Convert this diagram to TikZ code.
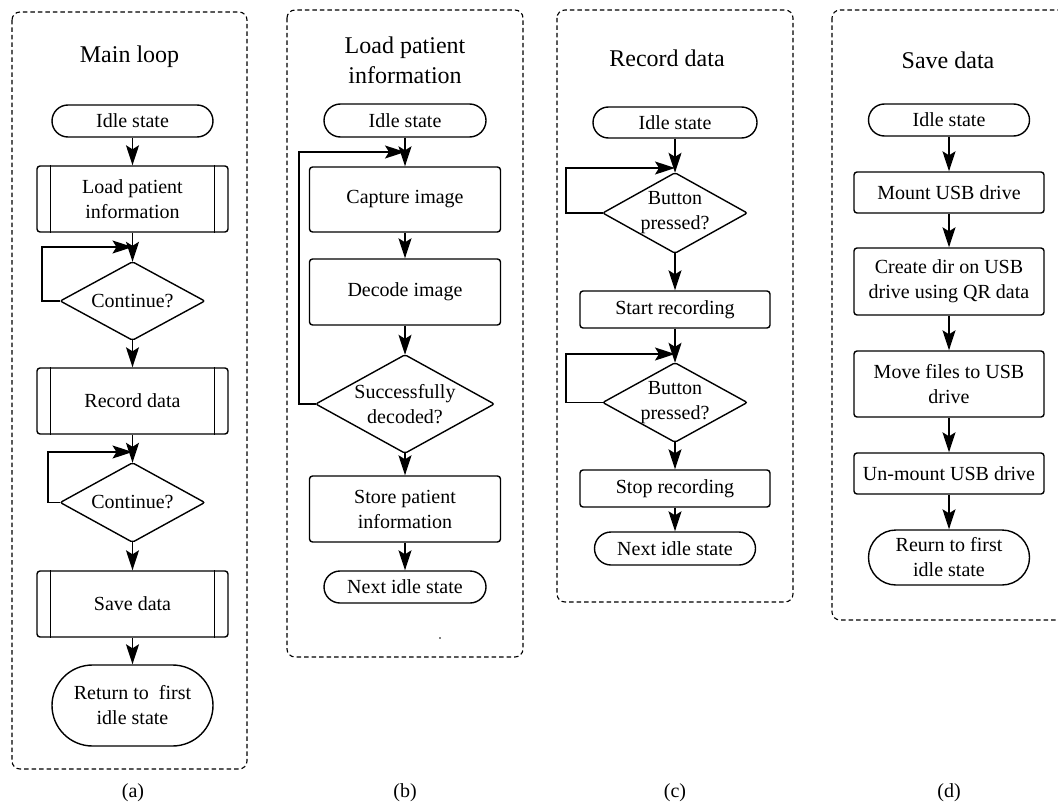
\documentclass[tikz,border=0pt]{standalone}
\usepackage{fontspec}
\setmainfont{Liberation Serif}
\usetikzlibrary{arrows.meta,shapes.misc}
\begin{document}
\begin{tikzpicture}[x=1pt,y=-1pt,
  every node/.style={font=\fontsize{20}{25}\selectfont, inner sep=0pt, align=center},
  frame/.style={draw, line width=1.1pt, dash pattern=on 4.5pt off 3pt, rounded corners=8pt},
  ttl/.style={font=\fontsize{24}{30}\selectfont},
  term/.style={draw, rounded rectangle, line width=1.4pt},
  proc/.style={draw, rectangle, rounded corners=3pt, line width=1.4pt},
  dec/.style={rectangle},
  arr/.style={line width=1.4pt, -{Stealth[length=20pt,width=13pt,inset=4pt]}},
  lbl/.style={font=\fontsize{20}{24}\selectfont}]
\useasboundingbox (0,0) rectangle (1058,808);
\clip (0,0) rectangle (1058,808);

% ---------------- (a) ----------------
\draw[frame] (12,12) rectangle (247,769);
\node[ttl] (ta) at (129.5,57) {Main loop};
\node[term, minimum width=161pt, minimum height=32pt] (a1) at (132.5,121) {Idle state};
\node[proc, minimum width=191pt, minimum height=66pt] (a2) at (132.5,199) {Load patient\\information};
\node[dec, minimum width=144pt, minimum height=78pt] (a3) at (132.5,301) {Continue?};
\node[proc, minimum width=191pt, minimum height=66pt] (a4) at (132.5,401) {Record data};
\node[dec, minimum width=144pt, minimum height=79pt] (a5) at (132.5,502.5) {Continue?};
\node[proc, minimum width=191pt, minimum height=66pt] (a6) at (132.5,604) {Save data};
\node[term, minimum width=161pt, minimum height=81pt] (a7) at (132.5,705.5) {Return to~ first\\idle state};
\node[lbl] (la) at (133,793) {(a)};
\coordinate (la1) at (42,247);
\coordinate (ja1) at (132.5,247);
\coordinate (la2) at (48,452);
\coordinate (ja2) at (132.5,452);

% ---------------- (b) ----------------
\draw[frame] (287,10) rectangle (523,657);
\node[ttl] (tb) at (405,60) {Load patient\\information};
\node[term, minimum width=162pt, minimum height=33pt] (b1) at (405,120.5) {Idle state};
\node[proc, minimum width=191pt, minimum height=65pt] (b2) at (405,199.5) {Capture image};
\node[proc, minimum width=191pt, minimum height=66pt] (b3) at (405,292) {Decode image};
\node[dec, minimum width=178pt, minimum height=98pt] (b4) at (405,404) {Successfully\\decoded?};
\node[proc, minimum width=191pt, minimum height=66pt] (b5) at (405,509) {Store patient\\information};
\node[term, minimum width=162pt, minimum height=32pt] (b6) at (405,587) {Next idle state};
\node[lbl] (lb) at (405,793) {(b)};
\fill (440,638) circle (0.8pt);
\coordinate (lb1) at (299,152);
\coordinate (jb1) at (405,152);

% ---------------- (c) ----------------
\draw[frame] (557,10) rectangle (793,602);
\node[ttl] (tc) at (667,58) {Record data};
\node[term, minimum width=164pt, minimum height=31pt] (c1) at (675,122.5) {Idle state};
\node[dec, minimum width=144pt, minimum height=80pt] (c2) at (675,213) {Button\\pressed?};
\node[proc, minimum width=190pt, minimum height=37pt] (c3) at (675,309.5) {Start recording};
\node[dec, minimum width=144pt, minimum height=79pt] (c4) at (675,402.5) {Button\\pressed?};
\node[proc, minimum width=190pt, minimum height=37pt] (c5) at (675,488.5) {Stop recording};
\node[term, minimum width=161pt, minimum height=33pt] (c6) at (675,548.5) {Next idle state};
\node[lbl] (lc) at (675,793) {(c)};
\coordinate (lc1) at (566,168);
\coordinate (jc1) at (675,168);
\coordinate (lc2) at (566,354);
\coordinate (jc2) at (675,354);

% ---------------- (d) ----------------
\draw[frame] (832,10) rectangle (1070,620);
\node[ttl] (td) at (948,60) {Save data};
\node[term, minimum width=161pt, minimum height=32pt] (d1) at (949,120) {Idle state};
\node[proc, minimum width=190pt, minimum height=41pt] (d2) at (949,192.5) {Mount USB drive};
\node[proc, minimum width=190pt, minimum height=67pt] (d3) at (949,281.5) {Create dir on USB\\drive using QR data};
\node[proc, minimum width=190pt, minimum height=66pt] (d4) at (949,384) {Move files to USB\\drive};
\node[proc, minimum width=190pt, minimum height=41pt] (d5) at (949,473.5) {Un-mount USB drive};
\node[term, minimum width=161pt, minimum height=55pt] (d6) at (949,557.5) {Reurn to first\\idle state};
\node[lbl] (ld) at (949,793) {(d)};

% subprocess side bars
\foreach \n in {a2,a4,a6} {
  \draw[line width=1.4pt] ([xshift=14pt]\n.north west) -- ([xshift=14pt]\n.south west);
  \draw[line width=1.4pt] ([xshift=-14pt]\n.north east) -- ([xshift=-14pt]\n.south east);
}
% diamonds
\foreach \n in {a3,a5,b4,c2,c4} {
  \draw[line width=1.4pt, rounded corners=2pt] (\n.north) -- (\n.east) -- (\n.south) -- (\n.west) -- cycle;
}

% connectors (a)
\draw[arr] (a1.south) -- (a2.north);
\draw[arr] (a2.south) -- (a3.north);
\draw[arr] (a3.south) -- (a4.north);
\draw[arr] (a4.south) -- (a5.north);
\draw[arr] (a5.south) -- (a6.north);
\draw[arr] (a6.south) -- (a7.north);
\draw[arr] (a3.west) -- (a3.west -| la1) -- (la1) -- (ja1);
\draw[arr] (a5.west) -- (a5.west -| la2) -- (la2) -- (ja2);
% connectors (b)
\draw[arr] (b1.south) -- (b2.north);
\draw[arr] (b2.south) -- (b3.north);
\draw[arr] (b3.south) -- (b4.north);
\draw[arr] (b4.south) -- (b5.north);
\draw[arr] (b5.south) -- (b6.north);
\draw[arr] (b4.west) -- (b4.west -| lb1) -- (lb1) -- (jb1);
% connectors (c)
\draw[arr] (c1.south) -- (c2.north);
\draw[arr] (c2.south) -- (c3.north);
\draw[arr] (c3.south) -- (c4.north);
\draw[arr] (c4.south) -- (c5.north);
\draw[arr] (c5.south) -- (c6.north);
\draw[arr] (c2.west) -- (c2.west -| lc1) -- (lc1) -- (jc1);
\draw[arr] (c4.west) -- (c4.west -| lc2) -- (lc2) -- (jc2);
% connectors (d)
\draw[arr] (d1.south) -- (d2.north);
\draw[arr] (d2.south) -- (d3.north);
\draw[arr] (d3.south) -- (d4.north);
\draw[arr] (d4.south) -- (d5.north);
\draw[arr] (d5.south) -- (d6.north);
\end{tikzpicture}
\end{document}
